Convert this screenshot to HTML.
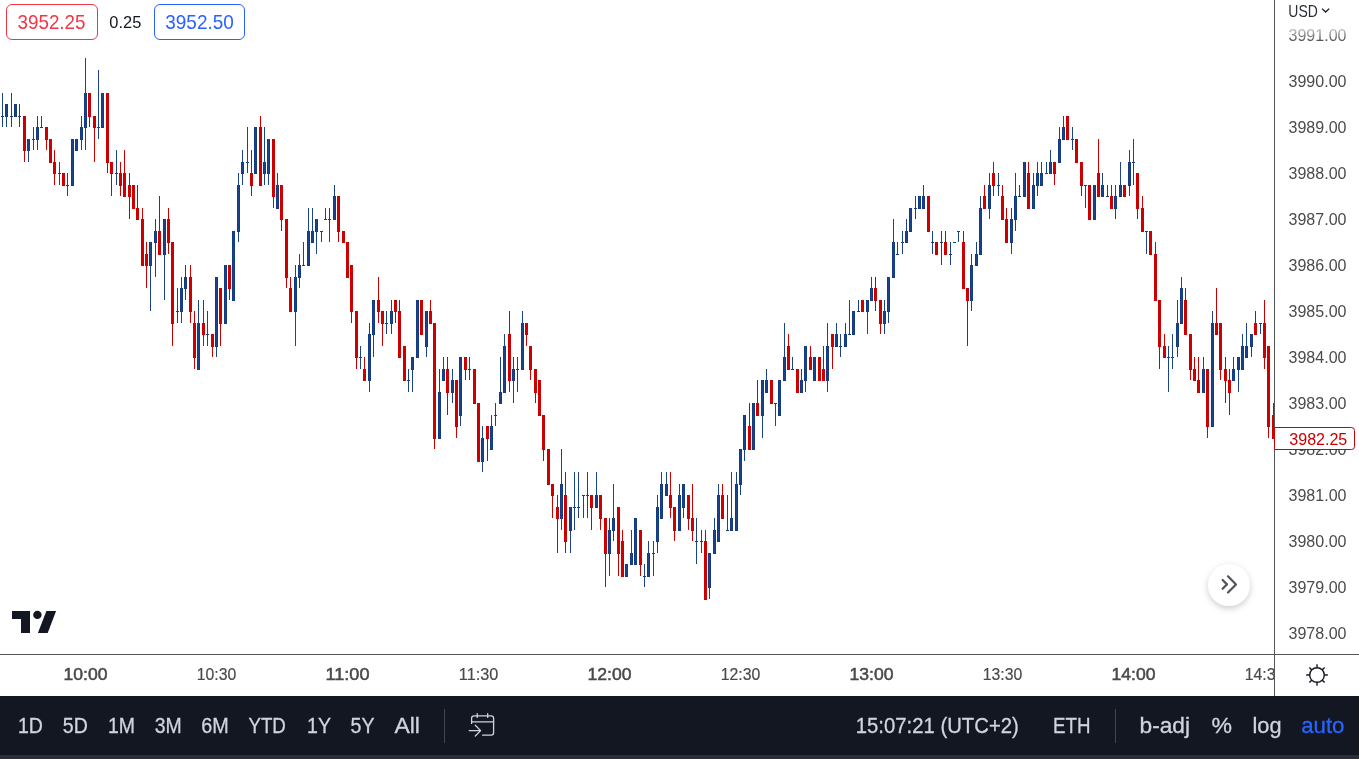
<!DOCTYPE html>
<html><head><meta charset="utf-8"><title>Chart</title>
<style>
html,body{margin:0;padding:0;background:#fff;overflow:hidden;}
svg{display:block;}
text{font-family:'Liberation Sans', Arial, sans-serif;}
</style></head>
<body>
<svg width="1359" height="759" viewBox="0 0 1359 759">
<defs>
<clipPath id="pane"><rect x="0" y="0" width="1274" height="654"/></clipPath>
<clipPath id="taxis"><rect x="0" y="655" width="1274" height="41"/></clipPath>
<linearGradient id="fade" gradientUnits="userSpaceOnUse" x1="0" y1="29" x2="0" y2="41"><stop offset="0" stop-color="#c4c4c4"/><stop offset="1" stop-color="#505050"/></linearGradient>
<filter id="sh" x="-50%" y="-50%" width="200%" height="200%"><feDropShadow dx="0" dy="0" stdDeviation="0.7" flood-color="#000" flood-opacity="0.12"/><feDropShadow dx="0" dy="2.5" stdDeviation="3.2" flood-color="#000" flood-opacity="0.2"/></filter>
</defs>
<rect width="1359" height="759" fill="#fff"/>
<g clip-path="url(#pane)" shape-rendering="crispEdges"><path fill="#123b82" d="M1 116h3v1h-3zM5 104h3v13h-3zM10 116h3v1h-3zM14 104h3v13h-3zM18 116h3v1h-3zM27 139h3v12h-3zM32 139h3v1h-3zM36 127h3v13h-3zM40 127h3v1h-3zM58 173h3v1h-3zM66 185h3v1h-3zM71 139h3v47h-3zM75 139h3v12h-3zM80 127h3v13h-3zM84 93h3v35h-3zM97 127h3v1h-3zM101 93h3v35h-3zM115 173h3v1h-3zM149 242h3v24h-3zM154 231h3v12h-3zM163 219h3v36h-3zM176 311h3v1h-3zM180 288h3v24h-3zM184 277h3v12h-3zM197 323h3v47h-3zM206 334h3v1h-3zM215 277h3v70h-3zM224 265h3v59h-3zM232 231h3v70h-3zM237 185h3v47h-3zM241 162h3v12h-3zM246 162h3v1h-3zM254 127h3v47h-3zM263 162h3v12h-3zM267 139h3v35h-3zM276 185h3v24h-3zM294 277h3v35h-3zM298 265h3v13h-3zM302 265h3v1h-3zM307 231h3v35h-3zM311 231h3v12h-3zM315 219h3v13h-3zM320 231h3v1h-3zM324 219h3v1h-3zM328 219h3v1h-3zM333 196h3v24h-3zM359 357h3v1h-3zM368 334h3v47h-3zM372 300h3v35h-3zM385 323h3v1h-3zM390 311h3v13h-3zM407 380h3v1h-3zM411 357h3v13h-3zM416 300h3v58h-3zM425 311h3v36h-3zM438 392h3v47h-3zM442 369h3v12h-3zM451 380h3v13h-3zM459 357h3v59h-3zM468 369h3v1h-3zM481 438h3v24h-3zM490 426h3v24h-3zM494 415h3v1h-3zM499 392h3v12h-3zM503 346h3v47h-3zM512 369h3v12h-3zM516 369h3v1h-3zM521 323h3v47h-3zM560 484h3v35h-3zM569 507h3v24h-3zM573 507h3v1h-3zM577 507h3v1h-3zM582 495h3v1h-3zM586 495h3v1h-3zM595 495h3v13h-3zM608 530h3v24h-3zM612 518h3v13h-3zM625 564h3v13h-3zM630 553h3v12h-3zM634 518h3v47h-3zM643 576h3v1h-3zM647 553h3v24h-3zM652 553h3v1h-3zM656 507h3v35h-3zM660 484h3v35h-3zM665 484h3v12h-3zM678 495h3v36h-3zM682 484h3v24h-3zM695 541h3v1h-3zM700 541h3v1h-3zM708 553h3v35h-3zM713 530h3v24h-3zM717 495h3v47h-3zM726 530h3v1h-3zM730 518h3v13h-3zM735 484h3v47h-3zM739 449h3v36h-3zM743 415h3v35h-3zM752 403h3v47h-3zM761 380h3v36h-3zM765 380h3v13h-3zM774 403h3v1h-3zM778 380h3v36h-3zM783 357h3v24h-3zM791 369h3v1h-3zM800 380h3v13h-3zM804 346h3v35h-3zM813 357h3v24h-3zM826 346h3v35h-3zM835 334h3v13h-3zM839 346h3v1h-3zM844 334h3v13h-3zM848 334h3v1h-3zM852 311h3v24h-3zM857 311h3v1h-3zM866 300h3v12h-3zM870 288h3v13h-3zM883 311h3v13h-3zM887 277h3v35h-3zM892 242h3v36h-3zM896 254h3v1h-3zM901 242h3v1h-3zM905 231h3v12h-3zM909 208h3v24h-3zM914 208h3v1h-3zM918 196h3v13h-3zM922 196h3v13h-3zM931 242h3v1h-3zM940 242h3v1h-3zM949 254h3v1h-3zM953 242h3v1h-3zM957 231h3v1h-3zM970 265h3v36h-3zM975 254h3v12h-3zM979 208h3v47h-3zM988 185h3v24h-3zM997 185h3v1h-3zM1010 219h3v24h-3zM1014 196h3v24h-3zM1018 196h3v1h-3zM1023 162h3v35h-3zM1032 185h3v24h-3zM1036 173h3v13h-3zM1040 173h3v13h-3zM1045 173h3v1h-3zM1049 162h3v12h-3zM1058 139h3v24h-3zM1062 127h3v13h-3zM1071 139h3v1h-3zM1084 185h3v1h-3zM1093 185h3v35h-3zM1101 185h3v12h-3zM1106 196h3v1h-3zM1114 196h3v13h-3zM1119 185h3v12h-3zM1128 162h3v24h-3zM1132 162h3v1h-3zM1145 231h3v1h-3zM1167 357h3v1h-3zM1171 357h3v1h-3zM1176 323h3v24h-3zM1180 288h3v36h-3zM1202 369h3v24h-3zM1211 323h3v104h-3zM1232 369h3v12h-3zM1237 357h3v13h-3zM1241 346h3v24h-3zM1245 346h3v12h-3zM1250 334h3v13h-3zM1259 323h3v1h-3z"/><path fill="#1b4389" d="M2 93h1v34h-1zM6 104h1v23h-1zM11 93h1v34h-1zM15 104h1v12h-1zM19 104h1v23h-1zM28 139h1v23h-1zM33 127h1v23h-1zM37 116h1v34h-1zM41 116h1v11h-1zM59 162h1v23h-1zM67 173h1v23h-1zM72 139h1v46h-1zM76 139h1v11h-1zM81 116h1v34h-1zM85 58h1v92h-1zM98 70h1v69h-1zM102 93h1v34h-1zM116 150h1v35h-1zM150 242h1v69h-1zM155 219h1v58h-1zM164 219h1v81h-1zM177 288h1v35h-1zM181 277h1v46h-1zM185 265h1v35h-1zM198 300h1v69h-1zM207 311h1v35h-1zM216 277h1v80h-1zM225 265h1v58h-1zM233 231h1v69h-1zM238 173h1v69h-1zM242 150h1v35h-1zM247 127h1v46h-1zM255 127h1v46h-1zM264 127h1v58h-1zM268 139h1v46h-1zM277 173h1v35h-1zM295 265h1v81h-1zM299 254h1v34h-1zM303 242h1v23h-1zM308 208h1v57h-1zM312 208h1v34h-1zM316 219h1v35h-1zM321 231h1v11h-1zM325 208h1v11h-1zM329 208h1v34h-1zM334 185h1v34h-1zM360 346h1v23h-1zM369 323h1v69h-1zM373 300h1v57h-1zM386 311h1v23h-1zM391 300h1v34h-1zM408 369h1v23h-1zM412 357h1v35h-1zM417 300h1v57h-1zM426 311h1v46h-1zM439 369h1v69h-1zM443 357h1v23h-1zM452 369h1v34h-1zM460 357h1v69h-1zM469 357h1v23h-1zM482 426h1v46h-1zM491 415h1v34h-1zM495 403h1v23h-1zM500 357h1v46h-1zM504 334h1v58h-1zM513 357h1v46h-1zM517 357h1v35h-1zM522 311h1v58h-1zM561 449h1v81h-1zM570 507h1v46h-1zM574 472h1v58h-1zM578 472h1v46h-1zM583 495h1v23h-1zM587 472h1v46h-1zM596 472h1v35h-1zM609 518h1v58h-1zM613 484h1v57h-1zM626 564h1v12h-1zM631 530h1v34h-1zM635 518h1v46h-1zM644 564h1v23h-1zM648 541h1v35h-1zM653 541h1v35h-1zM657 495h1v58h-1zM661 472h1v46h-1zM666 472h1v23h-1zM679 484h1v46h-1zM683 484h1v34h-1zM696 518h1v46h-1zM701 530h1v23h-1zM709 553h1v46h-1zM714 518h1v35h-1zM718 484h1v57h-1zM727 495h1v35h-1zM731 472h1v58h-1zM736 472h1v58h-1zM740 449h1v46h-1zM744 415h1v46h-1zM753 403h1v46h-1zM762 380h1v58h-1zM766 369h1v23h-1zM775 403h1v23h-1zM779 380h1v35h-1zM784 323h1v57h-1zM792 357h1v12h-1zM801 369h1v23h-1zM805 346h1v46h-1zM814 357h1v23h-1zM827 323h1v69h-1zM836 323h1v23h-1zM840 334h1v23h-1zM845 323h1v23h-1zM849 300h1v34h-1zM853 311h1v23h-1zM858 300h1v11h-1zM867 300h1v34h-1zM871 277h1v23h-1zM884 300h1v34h-1zM888 277h1v46h-1zM893 219h1v58h-1zM897 242h1v12h-1zM902 231h1v23h-1zM906 219h1v23h-1zM910 208h1v23h-1zM915 196h1v23h-1zM919 196h1v12h-1zM923 185h1v23h-1zM932 231h1v23h-1zM941 231h1v34h-1zM950 242h1v23h-1zM954 242h1v1h-1zM958 231h1v11h-1zM971 254h1v57h-1zM976 242h1v23h-1zM980 196h1v58h-1zM989 173h1v46h-1zM998 173h1v23h-1zM1011 208h1v46h-1zM1015 173h1v58h-1zM1019 185h1v11h-1zM1024 162h1v34h-1zM1033 173h1v35h-1zM1037 162h1v34h-1zM1041 162h1v23h-1zM1046 162h1v11h-1zM1050 150h1v23h-1zM1059 127h1v35h-1zM1063 116h1v23h-1zM1072 127h1v23h-1zM1085 185h1v23h-1zM1094 185h1v34h-1zM1102 173h1v23h-1zM1107 185h1v11h-1zM1115 185h1v34h-1zM1120 162h1v34h-1zM1129 150h1v46h-1zM1133 139h1v46h-1zM1146 231h1v23h-1zM1168 346h1v46h-1zM1172 334h1v35h-1zM1177 300h1v57h-1zM1181 277h1v46h-1zM1203 357h1v35h-1zM1212 311h1v115h-1zM1233 357h1v23h-1zM1238 357h1v35h-1zM1242 334h1v35h-1zM1246 323h1v34h-1zM1251 334h1v23h-1zM1260 323h1v11h-1z"/><path fill="#cc0000" d="M24 116h1v46h-1zM46 127h1v23h-1zM50 139h1v23h-1zM54 150h1v35h-1zM63 173h1v12h-1zM89 93h1v34h-1zM94 116h1v46h-1zM107 93h1v80h-1zM111 162h1v34h-1zM120 162h1v34h-1zM124 150h1v46h-1zM129 173h1v46h-1zM133 185h1v23h-1zM137 185h1v34h-1zM142 208h1v57h-1zM146 242h1v46h-1zM159 196h1v58h-1zM168 208h1v46h-1zM172 242h1v104h-1zM190 265h1v58h-1zM194 311h1v58h-1zM203 300h1v46h-1zM212 334h1v23h-1zM220 288h1v58h-1zM229 265h1v35h-1zM251 150h1v46h-1zM260 116h1v69h-1zM273 139h1v69h-1zM281 185h1v46h-1zM286 219h1v69h-1zM290 277h1v34h-1zM338 196h1v46h-1zM343 231h1v11h-1zM347 242h1v35h-1zM351 265h1v58h-1zM356 311h1v58h-1zM364 357h1v23h-1zM378 277h1v46h-1zM382 311h1v35h-1zM395 300h1v23h-1zM399 300h1v57h-1zM404 346h1v34h-1zM421 300h1v34h-1zM430 300h1v23h-1zM434 323h1v126h-1zM447 357h1v58h-1zM456 380h1v58h-1zM465 357h1v23h-1zM474 369h1v34h-1zM478 403h1v58h-1zM487 426h1v35h-1zM509 311h1v81h-1zM526 323h1v23h-1zM530 346h1v34h-1zM535 369h1v34h-1zM539 380h1v35h-1zM543 415h1v46h-1zM548 449h1v35h-1zM552 484h1v34h-1zM557 495h1v58h-1zM565 472h1v81h-1zM591 495h1v35h-1zM600 495h1v35h-1zM605 518h1v69h-1zM618 507h1v69h-1zM622 530h1v46h-1zM640 530h1v46h-1zM670 472h1v46h-1zM674 507h1v34h-1zM688 495h1v35h-1zM692 484h1v57h-1zM705 530h1v69h-1zM722 484h1v34h-1zM749 403h1v46h-1zM757 380h1v35h-1zM771 380h1v23h-1zM788 334h1v35h-1zM797 369h1v23h-1zM810 346h1v23h-1zM819 357h1v23h-1zM823 346h1v34h-1zM832 334h1v35h-1zM862 300h1v11h-1zM875 277h1v34h-1zM880 300h1v34h-1zM928 196h1v35h-1zM936 242h1v12h-1zM945 231h1v23h-1zM963 231h1v57h-1zM967 288h1v58h-1zM984 185h1v23h-1zM993 162h1v34h-1zM1002 185h1v34h-1zM1006 208h1v34h-1zM1028 162h1v46h-1zM1054 162h1v23h-1zM1067 116h1v23h-1zM1076 139h1v23h-1zM1081 162h1v34h-1zM1089 185h1v34h-1zM1098 139h1v57h-1zM1111 185h1v23h-1zM1124 185h1v11h-1zM1137 173h1v46h-1zM1142 196h1v35h-1zM1150 231h1v23h-1zM1155 242h1v58h-1zM1159 300h1v69h-1zM1164 334h1v23h-1zM1185 288h1v46h-1zM1190 334h1v46h-1zM1194 357h1v23h-1zM1198 357h1v35h-1zM1207 369h1v69h-1zM1216 288h1v46h-1zM1220 323h1v57h-1zM1225 357h1v46h-1zM1229 369h1v46h-1zM1255 311h1v23h-1zM1264 300h1v69h-1zM1268 346h1v92h-1zM1273 403h1v35h-1zM23 116h3v35h-3zM45 127h3v13h-3zM49 139h3v24h-3zM53 162h3v12h-3zM62 173h3v13h-3zM88 93h3v24h-3zM93 116h3v12h-3zM106 93h3v70h-3zM110 162h3v12h-3zM119 173h3v13h-3zM123 173h3v24h-3zM128 185h3v12h-3zM132 185h3v24h-3zM136 208h3v12h-3zM141 219h3v47h-3zM145 254h3v12h-3zM158 231h3v24h-3zM167 219h3v24h-3zM171 242h3v82h-3zM189 277h3v35h-3zM193 323h3v35h-3zM202 323h3v12h-3zM211 334h3v13h-3zM219 288h3v36h-3zM228 265h3v24h-3zM250 173h3v13h-3zM259 127h3v59h-3zM272 139h3v58h-3zM280 185h3v35h-3zM285 219h3v59h-3zM289 288h3v24h-3zM337 196h3v36h-3zM342 231h3v12h-3zM346 242h3v36h-3zM350 265h3v47h-3zM355 311h3v47h-3zM363 369h3v12h-3zM377 300h3v12h-3zM381 311h3v13h-3zM394 300h3v12h-3zM398 311h3v47h-3zM403 346h3v35h-3zM420 300h3v35h-3zM429 311h3v13h-3zM433 323h3v116h-3zM446 369h3v24h-3zM455 380h3v47h-3zM464 357h3v13h-3zM473 369h3v35h-3zM477 403h3v59h-3zM486 426h3v13h-3zM508 334h3v47h-3zM525 323h3v12h-3zM529 346h3v24h-3zM534 369h3v24h-3zM538 380h3v36h-3zM542 415h3v35h-3zM547 449h3v36h-3zM551 484h3v12h-3zM556 507h3v12h-3zM564 495h3v47h-3zM590 495h3v13h-3zM599 495h3v24h-3zM604 518h3v36h-3zM617 507h3v47h-3zM621 541h3v36h-3zM639 530h3v35h-3zM669 495h3v13h-3zM673 507h3v24h-3zM687 495h3v24h-3zM691 518h3v13h-3zM704 541h3v59h-3zM721 495h3v24h-3zM748 426h3v24h-3zM756 403h3v13h-3zM770 380h3v24h-3zM787 346h3v24h-3zM796 369h3v24h-3zM809 357h3v13h-3zM818 357h3v24h-3zM822 369h3v12h-3zM831 334h3v13h-3zM861 300h3v12h-3zM874 288h3v13h-3zM879 300h3v24h-3zM927 196h3v36h-3zM935 242h3v13h-3zM944 242h3v13h-3zM962 242h3v47h-3zM966 288h3v13h-3zM983 196h3v13h-3zM992 173h3v13h-3zM1001 196h3v24h-3zM1005 219h3v24h-3zM1027 173h3v36h-3zM1053 162h3v12h-3zM1066 116h3v24h-3zM1075 139h3v24h-3zM1080 162h3v24h-3zM1088 185h3v35h-3zM1097 173h3v24h-3zM1110 196h3v13h-3zM1123 185h3v12h-3zM1136 173h3v36h-3zM1141 208h3v24h-3zM1149 231h3v24h-3zM1154 254h3v47h-3zM1158 300h3v47h-3zM1163 346h3v12h-3zM1184 300h3v35h-3zM1189 334h3v36h-3zM1193 369h3v12h-3zM1197 380h3v13h-3zM1206 369h3v58h-3zM1215 323h3v12h-3zM1219 323h3v47h-3zM1224 369h3v12h-3zM1228 380h3v13h-3zM1254 323h3v12h-3zM1263 323h3v35h-3zM1267 346h3v81h-3zM1272 415h3v24h-3z"/></g>
<!-- logo -->
<g fill="#131722">
<path d="M12 611h18v22h-9v-14h-9z"/>
<circle cx="37.4" cy="614.9" r="4.2"/>
<path d="M46.4 611h9.7l-8.4 22h-9.8z"/>
</g>
<!-- scroll button -->
<circle cx="1229" cy="585" r="21" fill="#fff" filter="url(#sh)"/>
<g fill="none" stroke="#50535e" stroke-width="2.2" stroke-linecap="round" stroke-linejoin="round">
<path d="M1222.6 580l4.4 4.4-4.4 4.4"/><path d="M1228 576.3l8 8.1-8 8.1"/>
</g>
<!-- header -->
<rect x="6.5" y="4.5" width="91" height="35" rx="5.5" fill="#fff" stroke="#f23645"/>
<text x="17.5" y="29.3" font-size="20.6" fill="#f23645" textLength="68" lengthAdjust="spacingAndGlyphs">3952.25</text>
<text x="109.3" y="27.6" font-size="16" fill="#131722" textLength="32" lengthAdjust="spacingAndGlyphs">0.25</text>
<rect x="154.5" y="4.5" width="90" height="35" rx="5.5" fill="#fff" stroke="#2962ff"/>
<text x="165.3" y="29.2" font-size="20.6" fill="#2962ff" textLength="68.5" lengthAdjust="spacingAndGlyphs">3952.50</text>
<!-- axes lines -->
<rect x="1274" y="0" width="1" height="696" fill="#555"/>
<rect x="0" y="654" width="1359" height="1" fill="#555"/>
<!-- price axis -->
<g font-size="16.8"><text x="1288.5" y="41.2" textLength="58" lengthAdjust="spacingAndGlyphs" fill="url(#fade)">3991.00</text><text x="1288.5" y="87.2" textLength="58" lengthAdjust="spacingAndGlyphs" fill="#4a4a4a">3990.00</text><text x="1288.5" y="133.2" textLength="58" lengthAdjust="spacingAndGlyphs" fill="#4a4a4a">3989.00</text><text x="1288.5" y="179.2" textLength="58" lengthAdjust="spacingAndGlyphs" fill="#4a4a4a">3988.00</text><text x="1288.5" y="225.2" textLength="58" lengthAdjust="spacingAndGlyphs" fill="#4a4a4a">3987.00</text><text x="1288.5" y="271.2" textLength="58" lengthAdjust="spacingAndGlyphs" fill="#4a4a4a">3986.00</text><text x="1288.5" y="317.2" textLength="58" lengthAdjust="spacingAndGlyphs" fill="#4a4a4a">3985.00</text><text x="1288.5" y="363.2" textLength="58" lengthAdjust="spacingAndGlyphs" fill="#4a4a4a">3984.00</text><text x="1288.5" y="409.2" textLength="58" lengthAdjust="spacingAndGlyphs" fill="#4a4a4a">3983.00</text><text x="1288.5" y="455.2" textLength="58" lengthAdjust="spacingAndGlyphs" fill="#4a4a4a">3982.00</text><text x="1288.5" y="501.2" textLength="58" lengthAdjust="spacingAndGlyphs" fill="#4a4a4a">3981.00</text><text x="1288.5" y="547.2" textLength="58" lengthAdjust="spacingAndGlyphs" fill="#4a4a4a">3980.00</text><text x="1288.5" y="593.2" textLength="58" lengthAdjust="spacingAndGlyphs" fill="#4a4a4a">3979.00</text><text x="1288.5" y="639.2" textLength="58" lengthAdjust="spacingAndGlyphs" fill="#4a4a4a">3978.00</text></g>
<text x="1288.3" y="16.6" font-size="16.6" fill="#2a2e39" textLength="29.5" lengthAdjust="spacingAndGlyphs">USD</text>
<path d="M1322 8.6l3.6 3.4 3.6-3.4" fill="none" stroke="#131722" stroke-width="1.3"/>
<path d="M1274.5 427.5H1351.5a3 3 0 0 1 3 3v16a3 3 0 0 1-3 3H1274.5z" fill="#fff" stroke="#cc0000"/>
<text x="1289.3" y="445" font-size="16" fill="#cc0000" textLength="58" lengthAdjust="spacingAndGlyphs">3982.25</text>
<!-- time axis -->
<g clip-path="url(#taxis)" font-size="16.4" fill="#4a4a4a"><text x="63.5" y="680.3" textLength="44" lengthAdjust="spacingAndGlyphs" stroke="#4a4a4a" stroke-width="0.5">10:00</text><text x="196.8" y="680.3" textLength="39.5" lengthAdjust="spacingAndGlyphs" stroke="#4a4a4a" stroke-width="0.2">10:30</text><text x="325.5" y="680.3" textLength="44" lengthAdjust="spacingAndGlyphs" stroke="#4a4a4a" stroke-width="0.5">11:00</text><text x="458.8" y="680.3" textLength="39.5" lengthAdjust="spacingAndGlyphs" stroke="#4a4a4a" stroke-width="0.2">11:30</text><text x="587.5" y="680.3" textLength="44" lengthAdjust="spacingAndGlyphs" stroke="#4a4a4a" stroke-width="0.5">12:00</text><text x="720.8" y="680.3" textLength="39.5" lengthAdjust="spacingAndGlyphs" stroke="#4a4a4a" stroke-width="0.2">12:30</text><text x="849.5" y="680.3" textLength="44" lengthAdjust="spacingAndGlyphs" stroke="#4a4a4a" stroke-width="0.5">13:00</text><text x="982.8" y="680.3" textLength="39.5" lengthAdjust="spacingAndGlyphs" stroke="#4a4a4a" stroke-width="0.2">13:30</text><text x="1111.5" y="680.3" textLength="44" lengthAdjust="spacingAndGlyphs" stroke="#4a4a4a" stroke-width="0.5">14:00</text><text x="1244.8" y="680.3" textLength="39.5" lengthAdjust="spacingAndGlyphs" stroke="#4a4a4a" stroke-width="0.2">14:30</text></g>
<!-- gear -->
<g stroke="#131722" stroke-width="1.4" fill="none">
<circle cx="1317" cy="675" r="7.3"/>
<path d="M1317 664.2v3.6M1317 682.2v3.6M1306.2 675h3.6M1324.2 675h3.6M1309.4 667.4l2.5 2.5M1322.1 680.1l2.5 2.5M1324.6 667.4l-2.5 2.5M1311.9 680.1l-2.5 2.5"/>
</g>
<!-- toolbar -->
<rect x="0" y="696" width="1359" height="59" fill="#131722"/>
<rect x="0" y="755" width="1359" height="4" fill="#2a2e39"/>
<g font-size="21.6" fill="#d1d4dc" stroke="#d1d4dc" stroke-width="0.3">
<text x="18" y="733" textLength="25" lengthAdjust="spacingAndGlyphs">1D</text>
<text x="62.8" y="733" textLength="25" lengthAdjust="spacingAndGlyphs">5D</text>
<text x="108" y="733" textLength="27" lengthAdjust="spacingAndGlyphs">1M</text>
<text x="154.8" y="733" textLength="27" lengthAdjust="spacingAndGlyphs">3M</text>
<text x="201.2" y="733" textLength="27.5" lengthAdjust="spacingAndGlyphs">6M</text>
<text x="248.4" y="733" textLength="37.5" lengthAdjust="spacingAndGlyphs">YTD</text>
<text x="307" y="733" textLength="24" lengthAdjust="spacingAndGlyphs">1Y</text>
<text x="350.6" y="733" textLength="24" lengthAdjust="spacingAndGlyphs">5Y</text>
<text x="394.4" y="733" textLength="25.5" lengthAdjust="spacingAndGlyphs">All</text>
<text x="855.8" y="733" textLength="163" lengthAdjust="spacingAndGlyphs">15:07:21 (UTC+2)</text>
<text x="1053" y="733" textLength="37.5" lengthAdjust="spacingAndGlyphs">ETH</text>
<text x="1139.5" y="733" textLength="50.5" lengthAdjust="spacingAndGlyphs">b-adj</text>
<text x="1211.5" y="733" textLength="20.5" lengthAdjust="spacingAndGlyphs">%</text>
<text x="1252.5" y="733" textLength="29" lengthAdjust="spacingAndGlyphs">log</text>
<text x="1301.2" y="733" textLength="43.3" lengthAdjust="spacingAndGlyphs" fill="#2962ff" stroke="#2962ff">auto</text>
</g>
<rect x="444" y="709" width="1" height="34" fill="#434651"/>
<rect x="1115" y="709" width="1" height="34" fill="#434651"/>
<g fill="none" stroke="#d1d4dc" stroke-width="1.3" stroke-linecap="round" stroke-linejoin="round">
<path d="M471.6 723.4v-5.2a2.4 2.4 0 0 1 2.4-2.4h17.2a2.4 2.4 0 0 1 2.4 2.4v14.6a2.4 2.4 0 0 1-2.4 2.4h-8.6"/>
<path d="M471.6 721.9h22"/>
<path d="M477.2 713.6v3.8M487.7 713.6v3.8"/>
<path d="M469.2 730.6h11.2M475.3 725.3l5.3 5.3-5.3 5.4"/>
</g>
</svg>
</body></html>
